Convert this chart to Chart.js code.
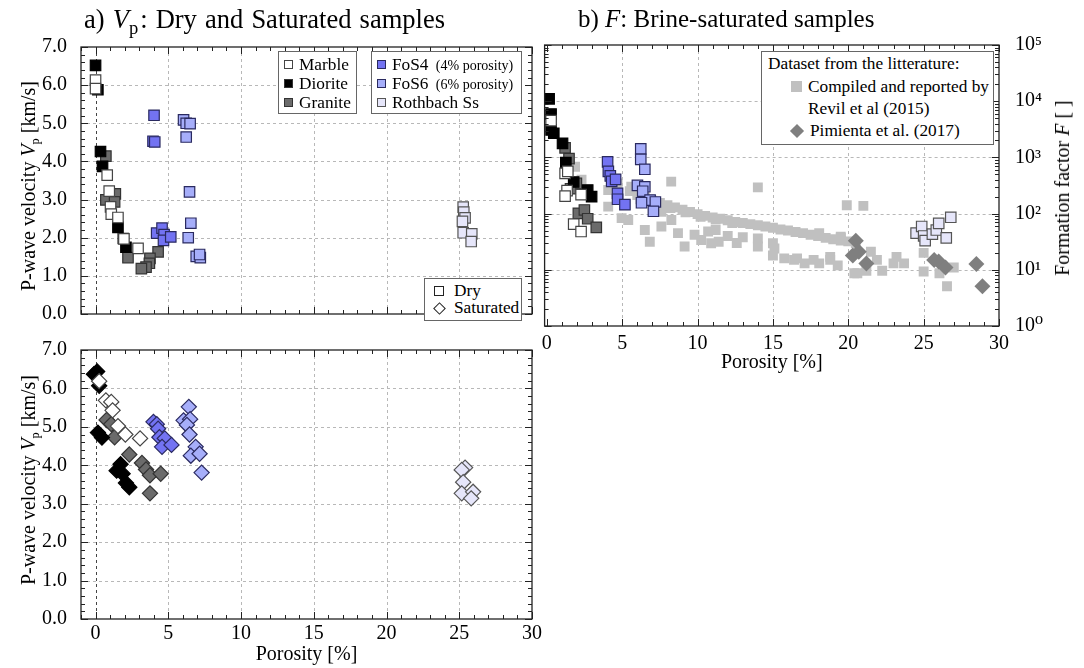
<!DOCTYPE html>
<html>
<head>
<meta charset="utf-8">
<script src="https://cdn.jsdelivr.net/npm/chart.js@4.4.1/dist/chart.umd.min.js"></script>
<style>
  body { margin: 0; background: #fff; }
  #wrap { position: relative; width: 1084px; height: 668px; overflow: hidden; font-family: "Liberation Serif", "DejaVu Serif", serif; color: #000; }
  canvas { position: absolute; }
  .t { position: absolute; white-space: nowrap; line-height: 1; }
  .rot { transform: translate(-50%, -50%) rotate(-90deg); }
  sub { font-size: 0.62em; vertical-align: -0.35em; line-height: 0; }
  .box { position: absolute; border: 1px solid #666; background: #fff; }
  .row { position: absolute; white-space: nowrap; font-size: 17.3px; line-height: 1; }
  .mk { position: absolute; width: 9px; height: 9px; border: 1px solid #333; box-sizing: border-box; }
  .sm { font-size: 14px; margin-left: 3px; }
</style>
</head>
<body>
<div id="wrap">
  <canvas id="dry" width="545" height="332" style="left:0;top:0"></canvas>
  <canvas id="sat" width="545" height="336" style="left:0;top:332px"></canvas>
  <canvas id="ff" width="548" height="380" style="left:536px;top:0"></canvas>

  <div class="t" style="left:84px;top:6px;font-size:26.5px;word-spacing:1.5px">a) <i>V</i><sub style="font-size:0.7em;margin-right:2px">p</sub>: Dry and Saturated samples</div>
  <div class="t" style="left:578px;top:6px;font-size:25px">b) <i>F</i>: Brine-saturated samples</div>

  <div class="t rot" style="left:28px;top:186px;font-size:20px">P-wave velocity <i>V</i><sub>p</sub> [km/s]</div>
  <div class="t rot" style="left:28px;top:480px;font-size:20px">P-wave velocity <i>V</i><sub>p</sub> [km/s]</div>
  <div class="t rot" style="left:1062px;top:188px;font-size:20px">Formation factor <i>F</i> [ ]</div>

  <!-- legend: rock type -->
  <div class="box" style="left:278px;top:51px;width:77px;height:61px"></div>
  <div class="mk" style="left:284px;top:60px;background:#fff;border-color:#444"></div>
  <div class="row" style="left:299px;top:56px">Marble</div>
  <div class="mk" style="left:284px;top:79px;background:#000"></div>
  <div class="row" style="left:299px;top:75px">Diorite</div>
  <div class="mk" style="left:284px;top:98px;background:#6b6b6b"></div>
  <div class="row" style="left:299px;top:94px">Granite</div>

  <!-- legend: synthetic / sandstone -->
  <div class="box" style="left:371px;top:51px;width:149px;height:61px"></div>
  <div class="mk" style="left:377px;top:60px;background:#7373f2;border-color:#2a2a60"></div>
  <div class="row" style="left:392px;top:56px">FoS4 <span class="sm">(4% porosity)</span></div>
  <div class="mk" style="left:377px;top:79px;background:#a6aefa;border-color:#2a2a60"></div>
  <div class="row" style="left:392px;top:75px">FoS6 <span class="sm">(6% porosity)</span></div>
  <div class="mk" style="left:377px;top:98px;background:#e6e6fa;border-color:#555"></div>
  <div class="row" style="left:392px;top:94px">Rothbach Ss</div>

  <!-- legend: state -->
  <div class="box" style="left:424px;top:278px;width:96px;height:41px"></div>
  <div class="mk" style="left:434px;top:286px;width:10px;height:10px;background:#fff;border-color:#222"></div>
  <div class="row" style="left:454px;top:282px">Dry</div>
  <div class="mk" style="left:435px;top:304px;width:9px;height:9px;background:#fff;border-color:#222;transform:rotate(45deg)"></div>
  <div class="row" style="left:454px;top:299px">Saturated</div>

  <!-- legend: literature -->
  <div class="box" style="left:761px;top:51px;width:231px;height:92px"></div>
  <div class="row" style="left:768px;top:55px">Dataset from the litterature:</div>
  <div class="mk" style="left:791px;top:81px;width:11px;height:11px;background:#c0c0c0;border:none"></div>
  <div class="row" style="left:808px;top:78px">Compiled and reported by</div>
  <div class="row" style="left:808px;top:100px">Revil et al (2015)</div>
  <div class="mk" style="left:792px;top:126px;width:10px;height:10px;background:#7f7f7f;border:none;transform:rotate(45deg)"></div>
  <div class="row" style="left:810px;top:122px">Pimienta et al. (2017)</div>
</div>

<script>
// porosity [%], Vp [km/s] -- dry samples
const marbleDry = [[0.0, 6.13], [0.0, 5.91], [0.8, 3.64], [0.94, 3.22], [1.03, 2.81], [1.08, 2.62], [1.54, 2.53], [1.95, 1.97], [2.92, 1.72]];
const dioriteDry = [[0.0, 6.52], [0.16, 5.88], [0.34, 4.26], [0.48, 3.87], [1.54, 2.27], [1.91, 1.98], [2.09, 1.75]];
const graniteDry = [[0.71, 4.14], [1.36, 3.15], [0.71, 2.99], [1.31, 2.94], [2.23, 1.48], [4.3, 1.63], [3.74, 1.46], [3.7, 1.33], [3.47, 1.23], [3.15, 1.19]];
const fos4Dry = [[4.02, 5.21], [3.95, 4.53], [4.07, 4.51], [4.2, 2.12], [4.57, 2.25], [4.71, 2.08], [4.67, 1.93], [5.17, 2.02]];
const fos6Dry = [[6.05, 5.09], [6.23, 5.0], [6.5, 4.99], [6.23, 4.64], [6.46, 3.2], [6.55, 2.38], [6.37, 2.0], [6.92, 1.51], [7.2, 1.48], [7.15, 1.56]];
const rothDry = [[25.27, 2.8], [25.31, 2.67], [25.4, 2.52], [25.22, 2.43], [25.27, 2.13], [25.86, 2.1], [25.82, 1.9]];

// porosity [%], Vp [km/s] -- saturated samples
const marbleSat = [[0.25, 6.19], [0.71, 5.69], [1.08, 5.65], [1.17, 5.43], [1.54, 5.02], [2.05, 4.8], [3.06, 4.7]];
const dioriteSat = [[0.11, 6.44], [-0.11, 6.37], [0.25, 6.07], [0.16, 4.85], [0.44, 4.72], [1.72, 4.03], [1.45, 3.86], [1.86, 3.78], [2.09, 3.54], [2.32, 3.43]];
const graniteSat = [[0.76, 5.18], [1.08, 5.07], [1.31, 4.73], [2.32, 4.28], [3.19, 4.06], [3.47, 3.89], [3.74, 3.74], [4.48, 3.78], [3.74, 3.27]];
const fos4Sat = [[3.98, 5.13], [4.21, 5.07], [4.3, 4.95], [4.39, 4.73], [4.76, 4.7], [4.57, 4.48], [5.22, 4.53]];
const fos6Sat = [[6.41, 5.52], [6.05, 5.17], [6.5, 5.2], [6.28, 5.05], [6.46, 4.8], [6.88, 4.48], [6.55, 4.25], [7.15, 4.3], [7.29, 3.81]];
const rothSat = [[25.4, 3.94], [25.17, 3.88], [25.27, 3.56], [25.17, 3.27], [25.95, 3.31], [25.82, 3.14]];

// porosity [%], formation factor F -- brine saturated
const marbleF = [[0.28, 4500], [1.21, 520], [1.39, 565], [1.34, 256], [1.21, 205], [2.27, 217], [1.78, 65], [2.27, 48]];
const dioriteF = [[0.15, 11000], [0.28, 5900], [0.28, 3080], [0.46, 2690], [1.04, 1780], [1.26, 810], [1.78, 365], [2.71, 263], [2.97, 200]];
const graniteF = [[1.21, 1480], [1.47, 950], [1.96, 345], [1.57, 277], [2.09, 101], [2.49, 116], [2.71, 81], [3.28, 57]];
const fos4F = [[4.03, 830], [4.08, 565], [4.21, 468], [4.3, 375], [4.56, 407], [4.69, 230], [4.69, 180], [5.18, 144]];
const fos6F = [[6.23, 1420], [6.23, 925], [6.5, 615], [6.01, 318], [6.5, 300], [6.36, 250], [6.85, 174], [7.2, 161], [6.28, 156], [7.07, 110]];
const rothF = [[24.5, 45], [24.87, 59], [25.0, 40], [25.1, 33], [25.58, 43], [25.84, 51], [26.0, 67], [26.5, 37], [26.8, 86]];
const pimientaF = [[20.5, 33], [20.7, 21], [20.3, 18], [21.2, 13], [25.7, 15], [26.0, 14], [26.45, 11], [28.5, 12.7], [28.9, 5.1]];
const revilF = [
  [5.5, 251], [6.0, 214], [6.5, 191], [7.0, 170], [7.5, 155], [8.0, 141], [8.5, 129], [9.0, 117], [9.5, 107], [10.0, 98],
  [10.5, 91], [11.0, 85], [11.5, 81], [12.0, 76], [12.5, 71], [13.0, 68], [13.5, 65], [14.0, 62], [14.5, 59], [15.0, 56],
  [15.5, 52], [16.0, 50], [16.5, 47], [17.0, 45], [17.5, 42], [18.0, 40], [18.5, 37], [19.0, 35], [19.5, 33], [20.0, 32], [20.5, 30],
  [6.2, 180], [7.2, 150], [8.2, 125], [9.2, 105], [10.2, 88], [11.2, 78], [12.3, 68],
  [8.25, 370], [4.07, 133], [4.96, 83], [5.4, 77], [6.5, 51], [6.83, 31.6], [7.6, 59], [8.7, 45], [9.14, 26], [9.8, 42],
  [10.24, 34], [10.9, 29.6], [11.2, 51], [8.26, 77], [7.6, 108], [4.07, 263], [4.7, 345], [1.87, 680], [2.3, 400], [5.6, 300],
  [14.0, 293], [10.7, 48], [11.4, 31.6], [12.6, 30], [14.0, 36], [14.0, 26], [15.0, 29.6], [15.0, 18], [15.75, 16], [16.4, 15],
  [17.1, 13], [17.7, 15], [18.07, 45], [18.07, 13], [18.8, 17], [19.3, 12], [19.5, 39], [19.9, 141], [21.0, 137],
  [20.4, 8.7], [21.5, 21], [21.9, 15], [22.25, 9.6], [20.6, 8.7], [21.2, 9.6], [23.0, 13], [23.2, 17], [23.7, 13],
  [25.0, 20], [25.0, 9.3], [26.05, 8.7], [26.55, 5.1], [27.0, 11], [15.1, 24], [16.6, 16], [18.8, 15], [19.5, 37], [13.0, 38], [12.0, 40]
];

const serif = '"Liberation Serif", "DejaVu Serif", serif';
const toXY = arr => arr.map(p => ({ x: p[0], y: p[1] }));

function rng(a, b, s) {
  const out = [];
  for (let v = a; v <= b + 1e-9; v += s) out.push(+v.toFixed(4));
  return out;
}

// dashed grid, frame and inward ticks on four sides
const frame = {
  id: 'frame',
  beforeDatasetsDraw(chart, args, o) {
    const { ctx, chartArea: a, scales } = chart;
    const x = scales.x, y = scales.y;
    ctx.save();
    ctx.lineWidth = 1;
    ctx.setLineDash([3, 3]);
    o.xGrid.forEach(v => {
      const p = Math.round(x.getPixelForValue(v)) + 0.5;
      ctx.strokeStyle = v === 0 && o.zeroLine ? '#444' : '#b8b8b8';
      ctx.beginPath(); ctx.moveTo(p, a.top); ctx.lineTo(p, a.bottom); ctx.stroke();
    });
    ctx.strokeStyle = '#b8b8b8';
    o.yGrid.forEach(v => {
      const p = Math.round(y.getPixelForValue(v)) + 0.5;
      ctx.beginPath(); ctx.moveTo(a.left, p); ctx.lineTo(a.right, p); ctx.stroke();
    });
    ctx.restore();
  },
  afterDatasetsDraw(chart, args, o) {
    const { ctx, chartArea: a, scales } = chart;
    const x = scales.x, y = scales.y;
    ctx.save();
    ctx.strokeStyle = '#222';
    ctx.lineWidth = 1;
    const tick = (vals, len) => {
      vals.forEach(v => {
        const px = Math.round(x.getPixelForValue(v)) + 0.5;
        if (px < a.left - 0.5 || px > a.right + 0.5) return;
        ctx.beginPath();
        ctx.moveTo(px, a.bottom); ctx.lineTo(px, a.bottom - len);
        ctx.moveTo(px, a.top); ctx.lineTo(px, a.top + len);
        ctx.stroke();
      });
    };
    const ytick = (vals, len) => {
      vals.forEach(v => {
        const py = Math.round(y.getPixelForValue(v)) + 0.5;
        if (py < a.top - 0.5 || py > a.bottom + 0.5) return;
        ctx.beginPath();
        ctx.moveTo(a.left, py); ctx.lineTo(a.left + len, py);
        ctx.moveTo(a.right, py); ctx.lineTo(a.right - len, py);
        ctx.stroke();
      });
    };
    tick(o.xMinor, 4); tick(o.xMajor, 7);
    ytick(o.yMinor, 4); ytick(o.yMajor, 7);
    ctx.lineWidth = 1.3;
    ctx.strokeRect(a.left, a.top, a.right - a.left, a.bottom - a.top);
    ctx.restore();
  }
};

function ds(label, arr, fill, edge, style, r, order) {
  return {
    label: label,
    data: toXY(arr),
    backgroundColor: fill,
    borderColor: edge,
    borderWidth: edge ? 1.2 : 0,
    pointStyle: style,
    pointRadius: r,
    pointHoverRadius: r,
    order: order
  };
}

function vpSets(m, d, g, f4, f6, rb, style, r) {
  return [
    ds('Marble', m, '#ffffff', '#444444', style, r, 1),
    ds('Diorite', d, '#000000', '#000000', style, r, 2),
    ds('Granite', g, '#6b6b6b', '#333333', style, r, 3),
    ds('FoS4', f4, '#7373f2', '#2a2a60', style, r, 4),
    ds('FoS6', f6, '#a6aefa', '#2a2a60', style, r, 5),
    ds('Rothbach Ss', rb, '#e6e6fa', '#555555', style, r, 6)
  ];
}

const tickFont = { family: serif, size: 20 };
const xLabels = [0, 5, 10, 15, 20, 25, 30];

function vpOptions(showX, pad) {
  return {
    responsive: false,
    animation: false,
    events: [],
    layout: { padding: pad },
    plugins: {
      legend: { display: false },
      tooltip: { enabled: false },
      frame: {
        xGrid: [0, 5, 10, 15, 20, 25], yGrid: [1, 2, 3, 4, 5, 6], zeroLine: true,
        xMajor: xLabels, xMinor: rng(-1, 30, 1),
        yMajor: rng(0, 7, 1), yMinor: rng(0, 7, 0.2)
      }
    },
    scales: {
      x: {
        type: 'linear', min: -1, max: 30,
        afterBuildTicks: s => { s.ticks = xLabels.map(v => ({ value: v })); },
        grid: { display: false }, border: { display: false },
        ticks: { display: showX, font: tickFont, color: '#000', padding: -5, maxRotation: 0 },
        title: { display: showX, text: 'Porosity [%]', font: { family: serif, size: 20 }, color: '#000', padding: { top: 0, bottom: 1 } },
        afterFit: s => { s.height = showX ? 49 : 0; }
      },
      y: {
        type: 'linear', min: 0, max: 7,
        grid: { display: false }, border: { display: false },
        ticks: { stepSize: 1, font: tickFont, color: '#000', padding: 6, callback: v => v.toFixed(1) },
        afterFit: s => { s.width = 81; }
      }
    }
  };
}

new Chart(document.getElementById('dry'), {
  type: 'scatter',
  data: { datasets: vpSets(marbleDry, dioriteDry, graniteDry, fos4Dry, fos6Dry, rothDry, 'rect', 7.4) },
  options: vpOptions(false, { top: 47, right: 13, bottom: 7, left: 0 }),
  plugins: [frame]
});

new Chart(document.getElementById('sat'), {
  type: 'scatter',
  data: { datasets: vpSets(marbleSat, dioriteSat, graniteSat, fos4Sat, fos6Sat, rothSat, 'rectRot', 7.6) },
  options: vpOptions(true, { top: 8, right: 13, bottom: 0, left: 0 }),
  plugins: [frame]
});

const sup = ['⁰', '¹', '²', '³', '⁴', '⁵'];
const decades = [1, 10, 100, 1000, 10000, 100000];
const logMinor = [];
decades.slice(0, 5).forEach(d => { for (let k = 2; k <= 9; k++) logMinor.push(d * k); });

new Chart(document.getElementById('ff'), {
  type: 'scatter',
  data: {
    datasets: [
      ds('Marble', marbleF, '#ffffff', '#444444', 'rect', 7.4, 1),
      ds('Diorite', dioriteF, '#000000', '#000000', 'rect', 7.4, 2),
      ds('Granite', graniteF, '#6b6b6b', '#333333', 'rect', 7.4, 3),
      ds('FoS4', fos4F, '#7373f2', '#2a2a60', 'rect', 7.4, 4),
      ds('FoS6', fos6F, '#a6aefa', '#2a2a60', 'rect', 7.4, 5),
      ds('Rothbach Ss', rothF, '#e6e6fa', '#555555', 'rect', 7.4, 0),
      ds('Pimienta et al. (2017)', pimientaF, '#7f7f7f', null, 'rectRot', 8, 7),
      ds('Revil et al (2015)', revilF, '#c0c0c0', null, 'rect', 7, 8)
    ]
  },
  options: {
    responsive: false,
    animation: false,
    events: [],
    layout: { padding: { top: 45, right: 0, bottom: 0, left: 8 } },
    plugins: {
      legend: { display: false },
      tooltip: { enabled: false },
      frame: {
        xGrid: [5, 10, 15, 20, 25], yGrid: [10, 100, 1000, 10000],
        xMajor: xLabels, xMinor: rng(0, 30, 1),
        yMajor: decades, yMinor: logMinor
      }
    },
    scales: {
      x: {
        type: 'linear', min: -0.15, max: 30,
        afterBuildTicks: s => { s.ticks = xLabels.map(v => ({ value: v })); },
        grid: { display: false }, border: { display: false },
        ticks: { font: tickFont, color: '#000', padding: -2, maxRotation: 0 },
        title: { display: true, text: 'Porosity [%]', font: { family: serif, size: 20 }, color: '#000', padding: { top: 0, bottom: 5 } },
        afterFit: s => { s.height = 54; }
      },
      y: {
        type: 'logarithmic', position: 'right', min: 1, max: 100000,
        afterBuildTicks: s => { s.ticks = decades.map(v => ({ value: v })); },
        grid: { display: false }, border: { display: false },
        ticks: { font: tickFont, color: '#000', padding: 8, callback: v => '10' + sup[Math.round(Math.log10(v))] },
        afterFit: s => { s.width = 85; }
      }
    }
  },
  plugins: [frame]
});
</script>
</body>
</html>
